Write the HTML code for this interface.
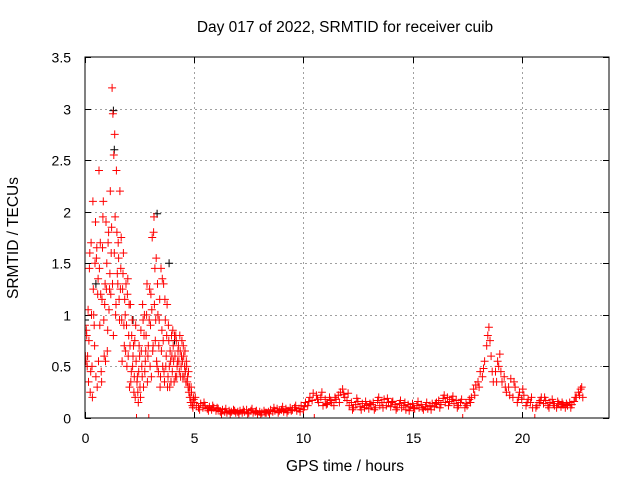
<!DOCTYPE html>
<html><head><meta charset="utf-8"><style>
html,body{margin:0;padding:0;background:#fff;}
svg text{font-family:"Liberation Sans",sans-serif;font-size:14px;fill:#000;}
svg text.big{font-size:15.5px;}
</style></head><body>
<svg id="chart" width="640" height="480" viewBox="0 0 640 480" xmlns="http://www.w3.org/2000/svg">
<rect width="640" height="480" fill="#fff"/>
<text class="big" x="345" y="32" text-anchor="middle">Day 017 of 2022, SRMTID for receiver cuib</text>
<text class="big" x="345" y="471" text-anchor="middle">GPS time / hours</text>
<text class="big" x="18" y="238" text-anchor="middle" transform="rotate(-90 18 238)">SRMTID / TECUs</text>
<g id="grid"></g>
<g id="ticks"></g>
<g id="blackpts"></g>
<g id="redpts"></g>
<rect x="85" y="57" width="524" height="361" fill="none" stroke="#000" stroke-width="1"/>
</svg>
<script>
const xTicks=[0,5,10,15,20];
const yTicks=[0,0.5,1,1.5,2,2.5,3,3.5];
const yTickLabels=["0","0.5","1","1.5","2","2.5","3","3.5"];
const blackTimes=[0.0,0.5,1.3,1.34,3.3,3.85,2.2,4.1];
const blackValues=[0.95,1.3,2.98,2.6,1.98,1.5,0.95,0.75];
const redTimes=[
0,0.04,0.08,0.12,0.16,0.2,0.24,0.28,0.32,0.36,0.4,0.44,0.48,0.52,0.56,0.6,0.64,0.68,0.72,0.76,0.8,0.84,0.88,0.92,0.96,1,1.04,1.08,1.12,1.16,1.2,1.24,1.28,1.32,1.36,1.4,1.44,1.48,1.52,1.56,1.6,1.64,1.68,1.72,1.76,1.8,1.84,1.88,1.92,1.96,2,2.04,2.08,2.12,2.16,2.2,2.24,2.28,2.32,2.36,2.4,2.44,2.48,2.52,2.56,2.6,2.64,2.68,2.72,2.76,2.8,2.84,2.88,2.92,2.96,3,3.04,3.08,3.12,3.16,3.2,3.24,3.28,3.32,3.36,3.4,3.44,3.48,3.52,3.56,3.6,3.64,3.68,3.72,3.76,3.8,3.84,3.88,3.92,3.96,4,4.04,4.08,4.12,4.16,4.2,4.24,4.28,4.32,4.36,4.4,4.44,4.48,4.52,4.56,4.6,4.64,4.68,4.72,4.76,4.8,4.84,4.88,4.92,4.96,
0.02,0.06,0.1,0.14,0.18,0.22,0.26,0.3,0.34,0.38,0.42,0.46,0.5,0.54,0.58,0.62,0.66,0.7,0.74,0.78,0.82,0.86,0.9,0.94,0.98,1.02,1.06,1.1,1.14,1.18,1.22,1.26,1.3,1.34,1.38,1.42,1.46,1.5,1.54,1.58,1.62,1.66,1.7,1.74,1.78,1.82,1.86,1.9,1.94,1.98,2.02,2.06,2.1,2.14,2.18,2.22,2.26,2.3,2.34,2.38,2.42,2.46,2.5,2.54,2.58,2.62,2.66,2.7,2.74,2.78,2.82,2.86,2.9,2.94,2.98,3.02,3.06,3.1,3.14,3.18,3.22,3.26,3.3,3.34,3.38,3.42,3.46,3.5,3.54,3.58,3.62,3.66,3.7,3.74,3.78,3.82,3.86,3.9,3.94,3.98,4.02,4.06,4.1,4.14,4.18,4.22,4.26,4.3,4.34,4.38,4.42,4.46,4.5,4.54,4.58,4.62,4.66,4.7,4.74,4.78,4.82,4.86,4.9,4.94,4.98,
5,5.1,5.2,5.3,5.4,5.5,5.6,5.7,5.8,5.9,6,6.1,6.2,6.3,6.4,6.5,6.6,6.7,6.8,6.9,7,7.1,7.2,7.3,7.4,7.5,7.6,7.7,7.8,7.9,8,8.1,8.2,8.3,8.4,8.5,8.6,8.7,8.8,8.9,9,9.1,9.2,9.3,9.4,9.5,9.6,9.7,9.8,9.9,10,10.1,10.2,10.3,10.4,10.5,10.6,10.7,10.8,10.9,11,11.1,11.2,11.3,11.4,11.5,11.6,11.7,11.8,11.9,12,12.1,12.2,12.3,12.4,12.5,12.6,12.7,12.8,12.9,13,13.1,13.2,13.3,13.4,13.5,13.6,13.7,13.8,13.9,14,14.1,14.2,14.3,14.4,14.5,14.6,14.7,14.8,14.9,15,15.1,15.2,15.3,15.4,15.5,15.6,15.7,15.8,15.9,16,16.1,16.2,16.3,16.4,16.5,16.6,16.7,16.8,16.9,17,17.1,17.2,17.3,17.4,17.5,17.6,17.7,17.8,17.9,18,18.1,18.2,18.3,18.4,18.5,18.6,18.7,18.8,18.9,19,19.1,19.2,19.3,19.4,19.5,19.6,19.7,19.8,19.9,20,20.1,20.2,20.3,20.4,20.5,20.6,20.7,20.8,20.9,21,21.1,21.2,21.3,21.4,21.5,21.6,21.7,21.8,21.9,22,22.1,22.2,22.3,22.4,22.5,22.6,22.7,22.8,
5.05,5.25,5.45,5.65,5.85,6.05,6.25,6.45,6.65,6.85,7.05,7.25,7.45,7.65,7.85,8.05,8.25,8.45,8.65,8.85,9.05,9.25,9.45,9.65,9.85,10.05,10.25,10.45,10.65,10.85,11.05,11.25,11.45,11.65,11.85,12.05,12.25,12.45,12.65,12.85,13.05,13.25,13.45,13.65,13.85,14.05,14.25,14.45,14.65,14.85,15.05,15.25,15.45,15.65,15.85,16.05,16.25,16.45,16.65,16.85,17.05,17.25,17.45,17.65,17.85,18.05,18.25,18.45,18.55,18.65,18.85,18.95,19.05,19.25,19.45,19.65,19.85,20.05,20.25,20.45,20.65,20.85,21.05,21.25,21.45,21.65,21.85,22.05,22.25,22.45,22.65,22.75];
const redValues=[
0.9,0.55,0.8,0.6,0.35,1.45,0.25,1.7,0.5,2.1,1.0,0.7,1.9,1.55,0.3,1.35,2.4,0.9,1.2,0.35,1.65,2.1,0.6,1.3,1.9,1.5,0.85,1.8,1.25,2.2,1.6,3.2,2.95,2.55,2.75,1.0,2.4,1.4,1.7,1.15,2.2,1.45,0.95,1.25,1.6,0.7,1.0,1.3,0.5,1.35,0.8,0.3,1.1,0.45,0.95,0.6,0.25,0.75,0.9,0.0,0.4,0.15,0.7,0.3,0.85,0.5,1.1,0.3,1.0,0.55,0.8,1.3,0.6,0.0,1.25,0.9,0.4,1.75,0.7,1.95,1.45,0.95,0.55,1.3,0.45,0.95,0.3,1.45,0.85,0.5,1.3,0.35,0.95,0.6,1.1,0.4,0.75,0.3,0.55,0.8,0.45,0.7,0.35,0.6,0.8,0.4,0.55,0.7,0.45,0.65,0.5,0.75,0.4,0.6,0.5,0.45,0.55,0.35,0.3,0.25,0.2,0.15,0.25,0.12,0.2,
0.6,0.85,0.5,1.05,0.75,1.6,0.45,1.0,0.2,1.25,0.9,1.5,0.4,1.65,1.2,0.55,1.45,1.7,0.45,1.15,1.95,0.95,1.1,0.55,1.25,0.65,1.7,1.05,1.4,1.2,1.85,1.3,0.8,1.6,1.95,1.1,1.8,1.3,1.55,0.95,1.25,1.75,0.55,1.4,0.9,1.15,0.65,0.9,1.2,0.6,1.1,0.7,0.35,0.8,0.5,0.7,0.4,0.2,0.55,0.35,0.25,0.45,0.6,0.2,0.65,0.4,0.95,0.8,0.45,0.65,1.0,0.35,0.7,0.95,0.5,1.2,1.05,0.65,1.8,1.1,0.75,1.55,0.5,1.0,0.7,1.15,0.4,0.65,1.35,0.75,0.45,1.15,0.5,0.8,0.3,0.9,0.5,0.65,0.35,0.6,0.85,0.55,0.8,0.4,0.75,0.5,0.65,0.55,0.8,0.4,0.6,0.55,0.7,0.4,0.65,0.35,0.5,0.4,0.45,0.3,0.2,0.3,0.15,0.1,0.18,
0.15,0.12,0.1,0.14,0.1,0.12,0.09,0.11,0.08,0.1,0.07,0.09,0.06,0.08,0.06,0.05,0.07,0.06,0.08,0.05,0.06,0.07,0.05,0.06,0.08,0.05,0.07,0.05,0.06,0.04,0.06,0.05,0.07,0.05,0.06,0.08,0.06,0.07,0.09,0.07,0.08,0.06,0.09,0.07,0.1,0.08,0.1,0.07,0.09,0.12,0.08,0.15,0.12,0.2,0.17,0.0,0.22,0.15,0.2,0.12,0.18,0.14,0.2,0.15,0.12,0.18,0.22,0.25,0.28,0.2,0.17,0.12,0.15,0.1,0.13,0.16,0.11,0.14,0.1,0.12,0.09,0.13,0.15,0.1,0.17,0.12,0.15,0.18,0.12,0.15,0.11,0.16,0.13,0.1,0.14,0.1,0.12,0.08,0.13,0.11,0.14,0.09,0.12,0.1,0.13,0.08,0.11,0.09,0.12,0.14,0.11,0.15,0.17,0.13,0.19,0.15,0.2,0.16,0.18,0.14,0.17,0.12,0.15,0.0,0.1,0.12,0.18,0.2,0.28,0.32,0.35,0.45,0.4,0.55,0.7,0.88,0.6,0.35,0.45,0.55,0.62,0.35,0.4,0.25,0.3,0.38,0.2,0.3,0.15,0.25,0.18,0.22,0.12,0.18,0.15,0.1,0.0,0.12,0.15,0.2,0.14,0.17,0.12,0.15,0.18,0.12,0.1,0.14,0.11,0.13,0.1,0.12,0.15,0.13,0.16,0.2,0.25,0.28,0.2,
0.2,0.08,0.15,0.07,0.12,0.1,0.04,0.09,0.04,0.07,0.04,0.08,0.04,0.09,0.07,0.03,0.05,0.04,0.1,0.05,0.11,0.05,0.07,0.12,0.06,0.11,0.16,0.24,0.18,0.25,0.13,0.17,0.2,0.15,0.23,0.24,0.08,0.19,0.08,0.16,0.14,0.08,0.2,0.1,0.19,0.15,0.08,0.17,0.15,0.07,0.1,0.16,0.1,0.15,0.08,0.14,0.1,0.22,0.12,0.21,0.1,0.18,0.14,0.15,0.22,0.3,0.48,0.8,0.75,0.45,0.35,0.5,0.45,0.3,0.22,0.35,0.2,0.28,0.15,0.2,0.1,0.17,0.2,0.1,0.14,0.16,0.15,0.14,0.1,0.2,0.22,0.3];

const X0=85,X1=609,Y0=418,Y1=57,XMAX=24,YMAX=3.5;
function xs(t){return X0+(X1-X0)*t/XMAX;}
function ys(v){return Y0-(Y0-Y1)*v/YMAX;}
const NS="http://www.w3.org/2000/svg";
const grid=document.getElementById('grid'),ticks=document.getElementById('ticks');
function line(g,x1,y1,x2,y2,st,dash){const l=document.createElementNS(NS,'line');l.setAttribute('x1',x1);l.setAttribute('y1',y1);l.setAttribute('x2',x2);l.setAttribute('y2',y2);l.setAttribute('stroke',st);l.setAttribute('stroke-width',1);if(dash)l.setAttribute('stroke-dasharray',dash);g.appendChild(l);return l;}
xTicks.forEach(t=>{const x=Math.round(xs(t))+0.5;
 if(t>0){const g=line(grid,x,Y1,x,Y0,'#a0a0a0','2,3');}
 const a=line(ticks,x,Y0,x,Y0-6,'#000');
 const b=line(ticks,x,Y1,x,Y1+6,'#000');
 const tx=document.createElementNS(NS,'text');tx.setAttribute('x',x);tx.setAttribute('y',Y0+25);tx.setAttribute('text-anchor','middle');tx.textContent=String(t);
 
 
 ticks.appendChild(tx);});
yTicks.forEach((v,i)=>{const y=Math.round(ys(v))+0.5;
 if(v>0&&v<YMAX){const g=line(grid,X0,y,X1,y,'#a0a0a0','2,3');}
 const a=line(ticks,X0,y,X0+6,y,'#000');
 const b=line(ticks,X1,y,X1-6,y,'#000');
 const tx=document.createElementNS(NS,'text');tx.setAttribute('x',X0-14);tx.setAttribute('y',y+5);tx.setAttribute('text-anchor','end');tx.textContent=yTickLabels[i];
 
 
 ticks.appendChild(tx);});
function plot(gid,T,V,col,nm){const g=document.getElementById(gid);let d='';
 for(let i=0;i<T.length;i++){const x=xs(T[i]),y=ys(V[i]);d+=`M${(x-4).toFixed(1)} ${y.toFixed(1)}h8M${x.toFixed(1)} ${(y-4).toFixed(1)}v8`;}
 const p=document.createElementNS(NS,'path');p.setAttribute('d',d);p.setAttribute('stroke',col);p.setAttribute('stroke-width',1);p.setAttribute('fill','none');
 
 
 g.appendChild(p);}
const cp=document.createElementNS(NS,'clipPath');cp.id='pc';const cr=document.createElementNS(NS,'rect');cr.setAttribute('x',X0);cr.setAttribute('y',Y1);cr.setAttribute('width',X1-X0);cr.setAttribute('height',Y0-Y1);cp.appendChild(cr);document.getElementById('chart').appendChild(cp);
document.getElementById('blackpts').setAttribute('clip-path','url(#pc)');
document.getElementById('redpts').setAttribute('clip-path','url(#pc)');
plot('blackpts',blackTimes,blackValues,'#000','black-points');
plot('redpts',redTimes,redValues,'#ff0000','red-points');
</script>
</body></html>
